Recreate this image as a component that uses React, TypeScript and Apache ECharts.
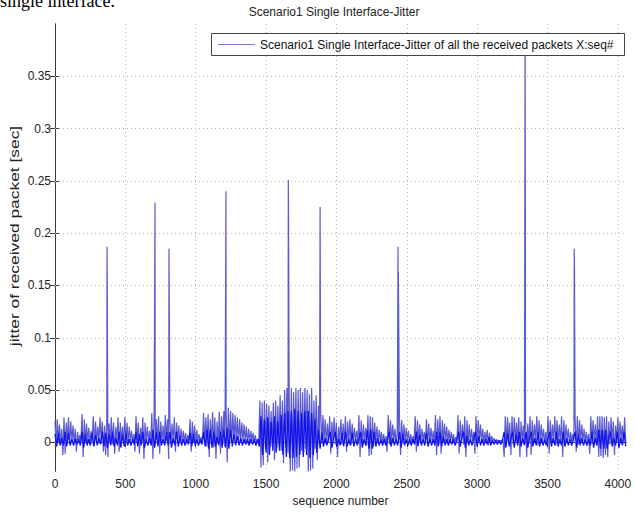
import React, { useEffect, useRef } from "react";
import * as echarts from "echarts";

// sequence-number spacing between successive readings below
const sampleStep = 16;
const noiseStep = 12;

// upper (burst envelope) jitter readings, in ms, at seq = 16*i
const peakMs = [
  20, 22, 17, 13, 24, 19, 24, 20, 16, 13,
  10, 7, 27, 22, 18, 14, 11, 25, 20, 15,
  24, 20, 16, 22, 18, 24, 19, 15, 24, 19,
  15, 24, 19, 15, 11, 8, 25, 19, 14, 24,
  19, 15, 11, 28, 26, 22, 25, 20, 16, 26,
  22, 24, 18, 24, 19, 16, 13, 11, 9, 7,
  22, 20, 16, 12, 8, 5, 28, 24, 27, 22,
  29, 24, 20, 29, 25, 30, 35, 33, 30, 28,
  26, 24, 22, 19, 17, 15, 13, 11, 9, 7,
  3, 40, 38, 40, 37, 35, 30, 38, 40, 35,
  45, 40, 50, 52, 50, 52, 48, 52, 50, 52,
  48, 52, 50, 46, 52, 40, 45, 35, 30, 26,
  22, 18, 25, 20, 24, 19, 15, 22, 18, 25,
  20, 22, 18, 14, 11, 26, 21, 17, 14, 26,
  25, 24, 19, 15, 12, 10, 8, 6, 26, 21,
  17, 13, 10, 25, 21, 17, 14, 11, 8, 6,
  25, 21, 17, 13, 10, 22, 18, 14, 11, 26,
  22, 25, 21, 18, 15, 12, 10, 8, 5, 26,
  21, 17, 25, 21, 17, 13, 10, 25, 21, 17,
  13, 10, 12, 9, 6, 4, 3, 2, 2, 3,
  25, 24, 19, 25, 24, 19, 24, 20, 16, 22,
  18, 25, 21, 17, 25, 21, 17, 13, 10, 25,
  21, 17, 25, 21, 17, 25, 21, 17, 13, 10,
  8, 26, 25, 21, 17, 13, 10, 8, 25, 21,
  17, 25, 25, 25, 24, 25, 20, 24, 20, 16,
  24, 20, 16, 24,
];

// lower jitter readings, in ms, at seq = 16*i + 8
const troughMs = [
  -2, 0, -3, -12, -11, 1, -2, 0, -1, -9,
  0, 1, -14, -1, 0, -2, 1, -3, 0, -1,
  1, -9, -12, -14, 0, -2, -11, 0, -9, 1,
  -2, 0, -1, 1, 0, -9, -1, -11, 0, -16,
  -1, 1, -2, -16, -3, -1, -11, 0, -1, 1,
  -16, -2, 0, -9, 0, -1, 1, 0, -1, 1,
  -9, 0, -2, 1, 0, -1, -3, -4, -14, -2,
  -5, -16, -1, -11, -2, -4, -19, -1, 0, 1,
  0, -1, 0, 1, 0, -1, 0, 1, 0, -1,
  0, -24, -22, -6, -19, -5, -4, -17, -6, -3,
  -8, -20, -5, -10, -28, -27, -28, -25, -24, -8,
  -10, -6, -28, -27, -25, -6, -17, -3, -1, 0,
  -2, 0, -11, -1, -2, -14, 0, -2, 0, -9,
  -1, -2, 0, 1, -1, -14, -2, 0, -3, -13,
  -12, -4, 0, -1, 1, 0, -1, -9, -2, 0,
  1, -1, 0, -12, -1, 0, 1, -1, 0, 1,
  -9, -1, 0, 1, -1, -3, 0, 1, -1, -12,
  -2, -11, 0, 1, -1, 0, 1, 0, -1, -11,
  0, -2, -14, -1, 0, 1, -11, -2, 0, 1,
  -1, 0, -3, 0, 1, 0, 1, 0, 1, -14,
  -3, -1, -12, -2, 0, -1, -14, 0, -2, -14,
  -1, -12, 0, 1, -3, 0, 1, -1, 0, -11,
  -1, 0, -3, 0, -1, -14, 0, 1, -1, 0,
  1, -9, -2, 0, 1, -1, 0, -11, -2, 0,
  -3, -14, -13, -15, -12, -14, -2, -1, -12, 0,
  -2, 1, -1, 0,
];

// dense small jitter around zero (the solid band), in ms, at seq = 12*j
const bandMs = [
  8, -4, 9, -3, 4, -3, 10, -4, 9, -3,
  3, -3, 3, -2, 3, -3, 10, -5, 8, -3,
  3, -3, 9, -4, 7, -3, 4, -2, 10, -4,
  9, -5, 8, -3, 10, -4, 4, -3, 10, -5,
  8, -4, 9, -3, 3, -3, 3, -2, 10, -4,
  8, -3, 10, -5, 3, -3, 4, -3, 12, -5,
  10, -4, 10, -3, 3, -3, 10, -3, 10, -5,
  4, -3, 10, -4, 6, -3, 3, -3, 3, -2,
  9, -4, 8, -3, 3, -3, 3, -2, 10, -4,
  12, -6, 12, -5, 10, -4, 5, -3, 10, -5,
  12, -5, 14, -6, 12, -4, 8, -3, 6, -3,
  4, -3, 3, -2, 3, -3, 3, -2, 3, -3,
  3, -4, 25, -12, 22, -10, 24, -12, 20, -8,
  25, -10, 20, -8, 26, -12, 28, -14, 30, -15,
  30, -15, 32, -14, 30, -12, 28, -14, 30, -12,
  30, -15, 28, -12, 22, -10, 12, -6, 10, -4,
  4, -3, 4, 10, -5, 4, 10, -4, 3, -3,
  9, -4, 10, -4, 3, -3, 9, -4, 3, -3,
  4, 10, -5, 3, -3, 12, -6, 12, -6, 10,
  -4, 4, -3, 3, -3, 3, -3, 3, 10, -4,
  4, -3, 3, -3, 10, -5, 8, -3, 3, -3,
  3, -3, 3, -2, 10, -4, 7, -3, 3, -3,
  9, -4, 4, -3, 3, -3, 10, -4, 10, -4,
  6, -3, 3, -3, 3, -2, 3, -3, 3, 10,
  -4, 5, 10, -5, 6, -3, 3, -3, 4, 10,
  -4, 6, -3, 3, -3, 3, -2, 5, -3, 2,
  -2, 2, -2, 2, -2, 2, 10, -5, 9, -4,
  4, 10, -5, 8, -3, 10, -4, 4, -3, 10,
  -5, 4, 10, -4, 4, -3, 10, -4, 4, -3,
  3, -3, 4, 10, -4, 4, -3, 10, -4, 3,
  -3, 10, -4, 4, -3, 3, -3, 3, 10, -5,
  8, -3, 4, -3, 3, -3, 3, -3, 10, -5,
  4, -3, 12, -6, 12, -6, 12, -6, 5, 10,
  -4, 4, -3, 10, -5, 4, -3, 10, -4,
];

// isolated large jitter spikes: [sequence number, jitter in ms]
const spikeSeq = [370, 372, 711, 810, 812, 1215, 1658, 1660, 1884, 2438, 2440, 3341, 3343, 3690, 3692];
const spikeMs = [187, 140, 229, 185, 139, 240, 251, 210, 225, 187, 163, 390, 200, 185, 163];

const xTicks = [0, 500, 1000, 1500, 2000, 2500, 3000, 3500, 4000];
const yTicks = [0, 0.05, 0.1, 0.15, 0.2, 0.25, 0.3, 0.35];

const titleText = "Scenario1 Single Interface-Jitter";
const legendText = "Scenario1 Single Interface-Jitter of all the received packets X:seq#";
const xName = "sequence number";
const yName = "jitter of received packet [sec]";
const captionText = "single interface.";

const SANS = "'Liberation Sans', Arial, Helvetica, sans-serif";

function buildPoints(): [number, number][] {
  const pts: [number, number][] = [];
  for (let i = 0; i < peakMs.length; i++) {
    pts.push([i * sampleStep, peakMs[i] / 1000]);
    pts.push([i * sampleStep + sampleStep / 2, troughMs[i] / 1000]);
  }
  for (let k = 0; k < spikeSeq.length; k++) pts.push([spikeSeq[k], spikeMs[k] / 1000]);
  pts.sort((a, b) => a[0] - b[0]);
  return pts;
}

function buildBand(): [number, number][] {
  return bandMs.map((v, j) => [j * noiseStep, v / 1000] as [number, number]);
}

export default function App() {
  const ref = useRef<HTMLDivElement>(null);
  useEffect(() => {
    if (!ref.current) return;
    const chart = echarts.init(ref.current, undefined, { renderer: "svg" });
    const axisColor = "#3a3a3a";
    const gridStyle = { color: "#b5b5b5", width: 1, type: [1, 3] as any };
    const tickCommon = { show: true, inside: true, length: 5, lineStyle: { color: axisColor } };
    chart.setOption({
      animation: false,
      backgroundColor: "#fff",
      textStyle: { fontFamily: SANS },
      grid: { left: 55, right: 9, top: 24, bottom: 33, containLabel: false },
      xAxis: [
        {
          type: "value",
          min: 0,
          max: 4058,
          interval: 500,
          position: "bottom",
          axisLine: { show: true, lineStyle: { color: axisColor, width: 1 } },
          axisTick: { ...tickCommon, customValues: xTicks },
          axisLabel: {
            customValues: xTicks,
            formatter: (v: number) => String(v),
            color: "#222",
            fontSize: 12,
            fontFamily: SANS,
            margin: 7,
          },
          splitLine: { show: true, lineStyle: gridStyle },
          name: xName,
          nameLocation: "middle",
          nameGap: 19,
          nameTextStyle: { color: "#222", fontSize: 12, fontFamily: SANS },
        },
        {
          type: "value",
          min: 0,
          max: 4058,
          interval: 500,
          position: "top",
          axisLine: { show: true, lineStyle: { color: axisColor, width: 1 } },
          axisTick: { ...tickCommon, customValues: xTicks },
          axisLabel: { show: false },
          splitLine: { show: false },
        },
      ],
      yAxis: [
        {
          type: "value",
          min: -0.0275,
          max: 0.4,
          position: "left",
          axisLine: { show: true, lineStyle: { color: axisColor, width: 1 } },
          axisTick: { ...tickCommon, customValues: yTicks },
          axisLabel: {
            customValues: yTicks,
            formatter: (v: number) => String(+v.toFixed(3)),
            color: "#222",
            fontSize: 12,
            fontFamily: SANS,
            margin: 4,
          },
          splitLine: { show: false },
        },
        {
          type: "value",
          min: -0.0275,
          max: 0.4,
          position: "right",
          axisLine: { show: true, lineStyle: { color: axisColor, width: 1 } },
          axisTick: { ...tickCommon, customValues: yTicks },
          axisLabel: { show: false },
          splitLine: { show: false },
        },
      ],
      series: [
        {
          type: "line",
          xAxisIndex: 0,
          yAxisIndex: 0,
          data: buildPoints(),
          showSymbol: false,
          symbol: "none",
          z: 2,
          lineStyle: { color: "#5a5ad4", width: 1.2 },
          itemStyle: { color: "#5a5ad4" },
          markLine: {
            silent: true,
            symbol: "none",
            z: 1,
            label: { show: false },
            lineStyle: gridStyle,
            data: yTicks.map((v) => ({ yAxis: v })),
          },
        },
        {
          type: "line",
          xAxisIndex: 0,
          yAxisIndex: 0,
          data: buildBand(),
          showSymbol: false,
          symbol: "none",
          z: 3,
          lineStyle: { color: "#1212ee", width: 1.3 },
          itemStyle: { color: "#1212ee" },
        },
      ],
      graphic: [
        {
          type: "text",
          x: 0,
          y: 10,
          z: 100,
          style: {
            text: captionText,
            font: "18px 'Liberation Serif', 'Times New Roman', serif",
            fill: "#000",
            textVerticalAlign: "bottom",
          },
        },
        {
          type: "text",
          x: 334,
          y: 12,
          z: 100,
          style: {
            text: titleText,
            font: `12px ${SANS}`,
            fill: "#222",
            textAlign: "center",
            textVerticalAlign: "middle",
          },
        },
        {
          type: "text",
          x: 15,
          y: 236,
          rotation: Math.PI / 2,
          scaleX: 1.45,
          z: 100,
          style: {
            text: yName,
            font: `12px ${SANS}`,
            fill: "#222",
            textAlign: "center",
            textVerticalAlign: "middle",
          },
        },
        {
          type: "rect",
          z: 100,
          shape: { x: 211.5, y: 33.5, width: 413, height: 22 },
          style: { fill: "#fff", stroke: "#444", lineWidth: 1 },
        },
        {
          type: "line",
          z: 101,
          shape: { x1: 218, y1: 44.5, x2: 255, y2: 44.5 },
          style: { stroke: "#7a7ad0", lineWidth: 1 },
        },
        {
          type: "text",
          x: 260,
          y: 44.5,
          z: 101,
          style: {
            text: legendText,
            font: `12px ${SANS}`,
            fill: "#111",
            textVerticalAlign: "middle",
          },
        },
      ],
    });
    return () => chart.dispose();
  }, []);
  return (
    <div
      ref={ref}
      style={{ position: "fixed", left: 0, top: 0, width: 635, height: 512, background: "#fff" }}
    />
  );
}
